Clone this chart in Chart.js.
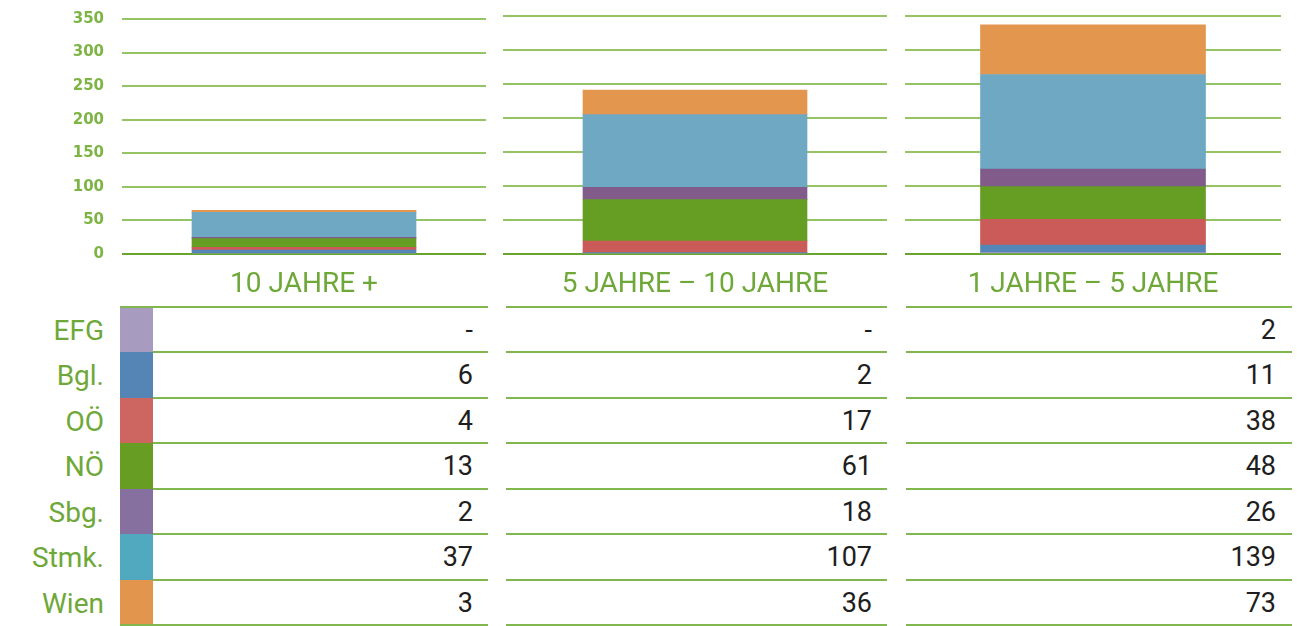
<!DOCTYPE html>
<html>
<head>
<meta charset="utf-8">
<script src="https://cdn.jsdelivr.net/npm/chart.js@4.4.1/dist/chart.umd.min.js"></script>
<style>
  body { margin: 0; background: #fff; width: 1297px; height: 626px; overflow: hidden; position: relative; font-family: Roboto, sans-serif; }
  canvas { position: absolute; top: 0; }
  .lbl { position: absolute; text-align: right; color: #6ea838; font-size: 28px; white-space: nowrap; }
  .val { position: absolute; text-align: right; color: #1e1e1e; font-size: 27px; white-space: nowrap; }
  .sw { position: absolute; left: 120px; width: 33px; }
  .ln { position: absolute; height: 2px; background: #82b74f; }
</style>
</head>
<body>
<canvas id="p0" width="490" height="300" style="left:0px"></canvas>
<canvas id="p1" width="384" height="300" style="left:503px"></canvas>
<canvas id="p2" width="376" height="300" style="left:905px"></canvas>
<div id="table"></div>
<script>
// Kategorien und Werte (von unten nach oben gestapelt)
const categories = ['10 JAHRE +', '5 JAHRE – 10 JAHRE', '1 JAHRE – 5 JAHRE'];
const seriesNames = ['EFG', 'Bgl.', 'OÖ', 'NÖ', 'Sbg.', 'Stmk.', 'Wien'];
const efg  = [0, 0, 2];
const bgl  = [6, 2, 11];
const ooe  = [4, 17, 38];
const noe  = [13, 61, 48];
const sbg  = [2, 18, 26];
const stmk = [37, 107, 139];
const wien = [3, 36, 73];
const yMax = 350;
const yStep = 50;

const series = [efg, bgl, ooe, noe, sbg, stmk, wien];
const barColors = ['#a89cc5', '#5586b8', '#ca5b58', '#659e23', '#815c8b', '#6fa8c3', '#e3964e'];
const swatchColors = ['#a89bc0', '#5585b5', '#cd6661', '#669d22', '#8670a0', '#51a9bf', '#e2954d'];

// Panel 1 trägt die y-Achse; deren Beschriftung braucht etwas Platz oben
const panels = [
  { id: 'p0', showY: true, padTop: 13, padRight: 4, thick: 224 },
  { id: 'p1', showY: false, padTop: 16, padRight: 0, thick: 224 },
  { id: 'p2', showY: false, padTop: 16, padRight: 0, thick: 225 }
];

panels.forEach(function(p, i) {
  const ctx = document.getElementById(p.id).getContext('2d');
  new Chart(ctx, {
    type: 'bar',
    data: {
      labels: [categories[i]],
      datasets: series.map((s, k) => ({
        label: seriesNames[k],
        data: [s[i]],
        backgroundColor: barColors[k],
        borderWidth: 0,
        barThickness: p.thick
      }))
    },
    options: {
      responsive: false,
      animation: false,
      layout: { padding: { top: p.padTop, right: p.padRight, left: 0, bottom: 0 } },
      plugins: { legend: { display: false }, tooltip: { enabled: false } },
      scales: {
        x: {
          stacked: true,
          grid: { display: false },
          border: { display: false },
          ticks: { color: '#6ea838', font: { family: 'Roboto', size: 28 }, padding: 6 },
          afterFit: s => { s.height = 46; }
        },
        y: {
          stacked: true,
          min: 0,
          max: yMax,
          border: { display: false },
          grid: {
            drawTicks: false,
            lineWidth: 2,
            color: c => c.tick.value === 0 ? '#6aa42f' : '#95c465'
          },
          ticks: {
            display: p.showY,
            stepSize: yStep,
            padding: 18,
            color: '#7db443',
            // kleine Zeilenhöhe, damit die Beschriftung den Plotbereich nicht verschiebt
            font: { family: 'DejaVu Sans', size: 15, weight: 'bold', lineHeight: '2px' }
          },
          afterFit: s => { s.width = p.showY ? 122 : 0; }
        }
      }
    }
  });
});

// Datentabelle unter dem Diagramm
const table = document.getElementById('table');
const rowTop = 307, rowH = 45.43;
const valueRight = [473, 872, 1276];
const lineSpans = [[153, 488], [506, 887], [906, 1292]];

function add(cls, css, text) {
  const d = document.createElement('div');
  d.className = cls;
  Object.assign(d.style, css);
  if (text !== undefined) d.textContent = text;
  table.appendChild(d);
}

seriesNames.forEach(function(name, r) {
  const top = rowTop + r * rowH + 1;
  add('lbl', { right: (1297 - 104) + 'px', top: top + 'px', height: rowH + 'px', lineHeight: rowH + 'px' }, name);
  add('sw', { top: (top - 1) + 'px', height: rowH + 'px', background: swatchColors[r] });
  series[r].forEach(function(v, i) {
    add('val', { right: (1297 - valueRight[i]) + 'px', top: top + 'px', height: rowH + 'px', lineHeight: rowH + 'px' }, v === 0 ? '-' : String(v));
  });
});

for (let r = 0; r <= seriesNames.length; r++) {
  const y = rowTop + r * rowH - 1;
  lineSpans.forEach(function(span, i) {
    let x0 = span[0];
    if (i === 0 && (r === 0 || r === seriesNames.length)) x0 = 120;
    add('ln', { left: x0 + 'px', width: (span[1] - x0) + 'px', top: y + 'px' });
  });
}
</script>
</body>
</html>
